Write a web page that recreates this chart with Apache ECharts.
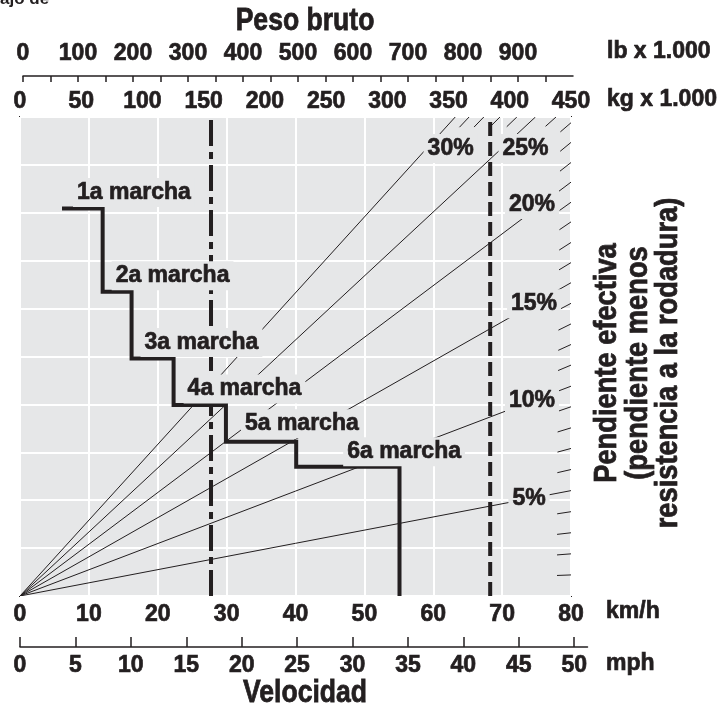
<!DOCTYPE html>
<html><head><meta charset="utf-8">
<script src="https://cdn.jsdelivr.net/npm/echarts@6/dist/echarts.min.js"></script>
<style>html,body{margin:0;padding:0;background:#fff}#c{width:720px;height:704px}</style>
</head><body><div id="c"></div>
<script>
// ---------------- data ----------------
const speedTicksKmh = [0, 10, 20, 30, 40, 50, 60, 70, 80];
const speedTicksMph = [0, 5, 10, 15, 20, 25, 30, 35, 40, 45, 50];
const weightTicksKg = [0, 50, 100, 150, 200, 250, 300, 350, 400, 450];
const weightTicksLb = [0, 100, 200, 300, 400, 500, 600, 700, 800, 900];
const weightMinorTicksLb = [0, 50, 100, 150, 200, 250, 300, 350, 400, 450, 500, 550, 600, 650, 700, 750, 800, 850, 900, 950];

const gearNames = ['1a marcha', '2a marcha', '3a marcha', '4a marcha', '5a marcha', '6a marcha'];
const gearStartSpeed = 6.1;                                   // km/h
const gearMaxSpeed = [12.0, 16.2, 22.3, 29.9, 40.1, 55.1];    // km/h
const gearRimpull = [80.9, 63.5, 49.6, 39.9, 32.2, 27.0];     // effective grade scale units

const grades = [1, 2, 3, 4, 5, 6, 7, 8, 9, 10, 11, 12, 13, 14, 15, 16, 17, 18, 19, 20, 21, 22, 23, 24, 25, 26, 27, 28, 29, 30];
// value of each grade line at 450 kg x 1000
const gradeValueAt450 = [4.4, 8.8, 13.2, 17.6, 22.0, 26.4, 30.8, 35.1, 39.5, 43.8, 48.2, 52.5, 56.8, 61.1, 65.4, 69.6, 73.8, 78.1, 82.2, 86.4, 90.5, 94.7, 98.8, 102.8, 106.9, 110.9, 114.8, 118.8, 122.7, 126.6];
const labeledGrades = [5, 10, 15, 20, 25, 30];

const weightMarks = [156, 384];  // kg x 1000 : empty / gross

// ---------------- style ----------------
const ink = '#231f20';
const plotBg = '#e6e7e8';
const FONT = '"Liberation Sans", Arial, sans-serif';
const BW = 0.7; // extra stroke to thicken bold glyphs
const lbl = { fontFamily: FONT, fontSize: 23, fontWeight: 'bold', color: ink, textBorderColor: ink, textBorderWidth: BW };
const gearLabelShift = [[15, -16], [13, -16], [13, -16], [14, -16], [19, -18], [51, -15]];
const pctLabelAdjust = { 5: [-42, 0], 10: [-39, 0], 15: [-37, 0], 20: [-39, -7] };
const HATCH = 14;

function txt(text, x, y, extra) {
  return Object.assign({ type: 'text', x: x, y: y,
    style: { text: text, fontFamily: FONT, fontSize: 23, fontWeight: 'bold', fill: ink,
      stroke: ink, lineWidth: BW, align: 'left', verticalAlign: 'middle' } }, extra || {});
}

// ---------------- build ----------------
const stepPts = [[gearStartSpeed, gearRimpull[0]]];
gearMaxSpeed.forEach((s, i) => {
  stepPts.push([s, gearRimpull[i]]);
  stepPts.push([s, i < gearRimpull.length - 1 ? gearRimpull[i + 1] : 0]);
});
const gearAnchors = gearNames.map((n, i) => [i === 0 ? gearStartSpeed : gearMaxSpeed[i - 1], gearRimpull[i], i]);
const gradeData = grades.map((g, i) => [g, gradeValueAt450[i]]);
const labeledData = gradeData.filter(d => labeledGrades.indexOf(d[0]) >= 0);

function lineEnd(api, params, r) {
  const o = api.coord([0, 0]);
  const e = api.coord([450, r]);
  const cs = params.coordSys;
  const dx = e[0] - o[0], dy = e[1] - o[1];
  let t = 1, top = false;
  const tTop = (cs.y - o[1]) / dy;
  if (tTop < 1) { t = tTop; top = true; }
  return { o, dx, dy, t, top, end: [o[0] + dx * t, o[1] + dy * t] };
}

const chart = echarts.init(document.getElementById('c'));
const option = {
  animation: false,
  backgroundColor: '#fff',
  grid: [
    { left: 20, top: 117, width: 551, height: 479, show: true, backgroundColor: plotBg, borderColor: ink, borderWidth: 2 },
    { left: 23, top: 66, width: 550, height: 10 },
    { left: 20, top: 637, width: 567.5, height: 10 }
  ],
  xAxis: [
    { gridIndex: 0, type: 'value', min: 0, max: 80, interval: 10, position: 'bottom',
      axisLine: { show: false }, axisTick: { show: false },
      axisLabel: Object.assign({ margin: 7, customValues: speedTicksKmh }, lbl),
      splitLine: { show: true, lineStyle: { color: '#ffffff', width: 2 } } },
    { gridIndex: 0, type: 'value', min: 0, max: 450, interval: 50, position: 'top',
      axisLine: { show: false }, axisTick: { show: false },
      axisLabel: Object.assign({ margin: 4, customValues: weightTicksKg }, lbl),
      splitLine: { show: false } },
    { gridIndex: 1, type: 'value', min: 0, max: 1000, position: 'top',
      axisLine: { show: true, lineStyle: { color: ink, width: 1.5 } },
      axisTick: { show: true, inside: true, length: 6, customValues: weightMinorTicksLb, lineStyle: { color: ink, width: 1.5 } },
      axisLabel: Object.assign({ margin: 1, customValues: weightTicksLb }, lbl),
      splitLine: { show: false } },
    { gridIndex: 2, type: 'value', min: 0, max: 51.2, position: 'bottom',
      axisLine: { show: true, lineStyle: { color: ink, width: 1.5 } },
      axisTick: { show: true, inside: true, length: 10, customValues: speedTicksMph, lineStyle: { color: ink, width: 1.5 } },
      axisLabel: Object.assign({ margin: 7, customValues: speedTicksMph }, lbl),
      splitLine: { show: false } }
  ],
  yAxis: [
    { gridIndex: 0, type: 'value', min: 0, max: 100, interval: 10,
      axisLine: { show: false }, axisTick: { show: false }, axisLabel: { show: false },
      splitLine: { show: true, lineStyle: { color: '#ffffff', width: 2 } } },
    { gridIndex: 1, type: 'value', show: false },
    { gridIndex: 2, type: 'value', show: false }
  ],
  graphic: [
    txt('ajo de', 0, -1, { style: { text: 'ajo de', fontFamily: FONT, fontSize: 17, fontWeight: 'bold', fill: ink, align: 'left', verticalAlign: 'middle' } }),
    txt('lb x 1.000', 607, 52),
    txt('kg x 1.000', 607, 100),
    txt('km/h', 606, 612),
    txt('mph', 606, 664),
    { type: 'text', x: 305, y: 21, scaleX: 0.83,
      style: { text: 'Peso bruto', fontFamily: FONT, fontSize: 32, fontWeight: 'bold', fill: ink, stroke: ink, lineWidth: 0.8, align: 'center', verticalAlign: 'middle' } },
    { type: 'text', x: 305, y: 693, scaleX: 0.83,
      style: { text: 'Velocidad', fontFamily: FONT, fontSize: 32, fontWeight: 'bold', fill: ink, stroke: ink, lineWidth: 0.8, align: 'center', verticalAlign: 'middle' } },
    { type: 'text', x: 638, y: 363, rotation: Math.PI / 2, scaleX: 0.88,
      style: { text: 'Pendiente efectiva\n(pendiente menos\nresistencia a la rodadura)', fontFamily: FONT, fontSize: 31, fontWeight: 'bold', fill: ink, stroke: ink, lineWidth: 0.8, align: 'center', verticalAlign: 'middle', lineHeight: 30.5 } }
  ],
  series: [
    { // grade lines (labelled ones full length, others as edge hatches)
      type: 'custom', xAxisIndex: 1, yAxisIndex: 0, z: 2, clip: true,
      data: gradeData,
      renderItem: function (params, api) {
        const g = api.value(0), r = api.value(1);
        const L = lineEnd(api, params, r);
        const full = labeledGrades.indexOf(g) >= 0;
        let s = L.o;
        if (!full) {
          const len = Math.hypot(L.dx * L.t, L.dy * L.t);
          const f = 1 - HATCH / len;
          s = [L.o[0] + L.dx * L.t * f, L.o[1] + L.dy * L.t * f];
        }
        return { type: 'line', shape: { x1: s[0], y1: s[1], x2: L.end[0], y2: L.end[1] },
          style: { stroke: ink, lineWidth: 1 } };
      }
    },
    { // weight marker lines
      type: 'line', xAxisIndex: 1, yAxisIndex: 0, z: 3, symbol: 'none',
      data: [[weightMarks[0], 0], [weightMarks[0], 100]],
      lineStyle: { color: ink, width: 4, type: [26, 6, 7, 6] }
    },
    {
      type: 'line', xAxisIndex: 1, yAxisIndex: 0, z: 3, symbol: 'none',
      data: [[weightMarks[1], 0], [weightMarks[1], 100]],
      lineStyle: { color: ink, width: 4, type: [14, 6] }
    },
    { // gear steps
      type: 'line', xAxisIndex: 0, yAxisIndex: 0, z: 4, symbol: 'none',
      data: stepPts,
      lineStyle: { color: ink, width: 4, join: 'miter', cap: 'butt' }
    },
    { // percent labels
      type: 'custom', xAxisIndex: 1, yAxisIndex: 0, z: 6, clip: false,
      data: labeledData,
      renderItem: function (params, api) {
        const g = api.value(0), r = api.value(1);
        const L = lineEnd(api, params, r);
        const cs = params.coordSys;
        let x, y, align;
        if (!L.top) {
          const adj = pctLabelAdjust[g] || [-40, 0];
          x = cs.x + cs.width + adj[0];
          y = L.o[1] + L.dy * ((x - L.o[0]) / L.dx) + adj[1];
          align = 'center';
        } else {
          y = cs.y + 31.5;
          x = L.o[0] + L.dx * ((y - L.o[1]) / L.dy) - 3;
          align = 'left';
        }
        return { type: 'text', x: x, y: y,
          style: { text: g + '%', fontFamily: FONT, fontSize: 23, fontWeight: 'bold', fill: ink, stroke: ink, lineWidth: BW,
            align: align, verticalAlign: 'middle', backgroundColor: plotBg, padding: [3, 4] } };
      }
    },
    { // gear labels
      type: 'custom', xAxisIndex: 0, yAxisIndex: 0, z: 7, clip: false,
      data: gearAnchors,
      renderItem: function (params, api) {
        const i = api.value(2);
        const p = api.coord([api.value(0), api.value(1)]);
        const sh = gearLabelShift[i];
        return { type: 'text', x: p[0] + sh[0] - 4, y: p[1] + sh[1],
          style: { text: gearNames[i], fontFamily: FONT, fontSize: 23, fontWeight: 'bold', fill: ink, stroke: ink, lineWidth: BW,
            align: 'left', verticalAlign: 'middle', backgroundColor: plotBg, padding: [3, 4] } };
      }
    }
  ]
};
chart.setOption(option);
</script></body></html>
